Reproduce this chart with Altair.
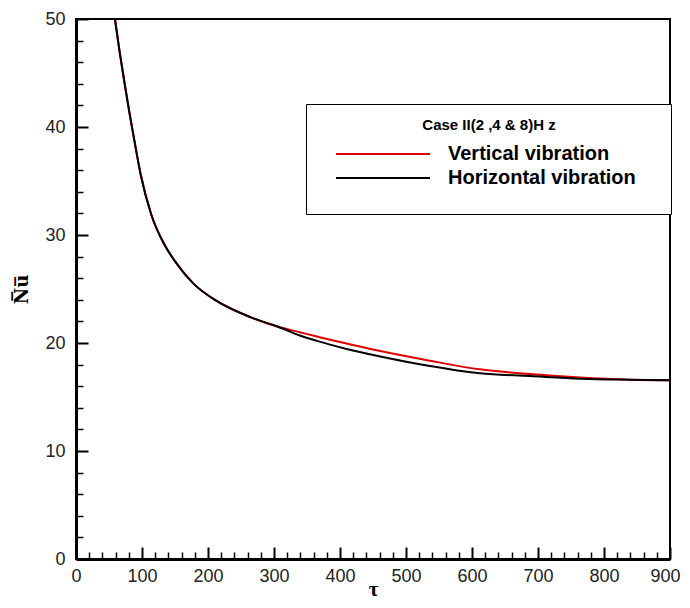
import altair as alt
import pandas as pd

# ---- data ----
tau = [59, 66, 74, 81, 88, 98, 114, 135, 152, 178, 213, 264, 306,
       339, 365, 385, 410, 461, 536, 612, 688, 764, 839, 900]
nu_vertical = [50, 47.0, 43.9, 41.3, 38.9, 35.6, 31.9, 29.0, 27.4, 25.5, 23.9, 22.4, 21.5,
               21.0, 20.6, 20.3, 19.95, 19.25, 18.36, 17.56, 17.13, 16.8, 16.6, 16.55]
nu_horizontal = [50, 47.0, 43.9, 41.3, 38.9, 35.6, 31.9, 29.0, 27.4, 25.5, 23.9, 22.4, 21.5,
                 20.7, 20.2, 19.85, 19.45, 18.75, 17.87, 17.19, 16.94, 16.7, 16.6, 16.55]
series = ["Vertical vibration", "Horizontal vibration"]
colors = ["#dd0000", "#000000"]
legend_title = "Case II(2 ,4 & 8)H z"
x_major = list(range(0, 901, 100))
x_minor = list(range(0, 901, 20))
y_major = list(range(0, 51, 10))
y_minor = list(range(0, 51, 2))

rows = []
for t, v in zip(tau, nu_vertical):
    rows.append({"tau": t, "nu": v, "series": series[0], "order": 0})
for t, h in zip(tau, nu_horizontal):
    rows.append({"tau": t, "nu": h, "series": series[1], "order": 1})
df = pd.DataFrame(rows)

W, H = 594, 540
LABEL_FONT = "Liberation Sans"

xs = alt.Scale(domain=[0, 900], nice=False, zero=False)
ys = alt.Scale(domain=[0, 50], nice=False, zero=False)

last_x = "datum.value === 900"

lines = alt.Chart(df).mark_line(strokeWidth=2, interpolate="monotone").encode(
    x=alt.X("tau:Q", scale=xs,
            axis=alt.Axis(orient="bottom", values=x_major, ticks=False, tickSize=0,
                          labelPadding=8, labelFont=LABEL_FONT, labelFontSize=18,
                          labelColor="#222", labelFlush=False, labelOverlap=False,
                          labelAlign={"condition": {"test": last_x, "value": "right"}, "value": "center"},
                          labelOffset={"condition": {"test": last_x, "value": 10}, "value": 0},
                          domainColor="black", domainWidth=3, grid=False,
                          title="τ", titleFont="Liberation Serif", titleFontSize=21,
                          titleFontWeight="bold", titleColor="black",
                          titleBaseline="alphabetic", titleY=36)),
    y=alt.Y("nu:Q", scale=ys,
            axis=alt.Axis(orient="left", values=y_major, ticks=False, tickSize=0,
                          labelPadding=11, labelFont=LABEL_FONT, labelFontSize=18,
                          labelColor="#222", labelFlush=False, labelOverlap=False,
                          domainColor="black", domainWidth=3, grid=False,
                          title="N\u0305u\u0305", titleFont="DejaVu Serif", titleFontSize=18,
                          titleFontWeight="bold", titleColor="black", titlePadding=13)),
    color=alt.Color("series:N",
                    scale=alt.Scale(domain=series, range=colors),
                    legend=alt.Legend(
                        title=legend_title, orient="none", legendX=230, legendY=85,
                        direction="vertical", padding=26,
                        strokeColor="black", fillColor="white",
                        titleFont=LABEL_FONT, titleFontSize=15,
                        titleFontWeight="bold", titleColor="black",
                        titleAnchor="middle", titleBaseline="alphabetic", titlePadding=-2,
                        symbolType="M-4.7,0H4.7M25.8,0", symbolSize=400, symbolStrokeWidth=2,
                        symbolOffset=40, labelOffset=54, rowPadding=3,
                        labelFont=LABEL_FONT, labelFontSize=20, labelFontWeight="bold",
                        labelColor="black", labelLimit=400)),
    order=alt.Order("order:Q"),
)

ticks = alt.Chart(df).mark_point(opacity=0, size=1).encode(
    x=alt.X("tau:Q", scale=xs,
            axis=alt.Axis(orient="top", offset=-H, values=x_minor, labels=False,
                          domain=False, grid=False, title=None, tickColor="black",
                          tickSize={"condition": {"test": "datum.value % 100 === 0", "value": 12}, "value": 7},
                          tickWidth={"condition": {"test": "datum.value % 100 === 0", "value": 2}, "value": 1.5})),
    y=alt.Y("nu:Q", scale=ys,
            axis=alt.Axis(orient="right", offset=-W, values=y_minor, labels=False,
                          domain=False, grid=False, title=None, tickColor="black",
                          tickSize={"condition": {"test": "datum.value % 10 === 0", "value": 12}, "value": 7},
                          tickWidth={"condition": {"test": "datum.value % 10 === 0", "value": 2}, "value": 1.5})),
)

chart = alt.layer(lines, ticks).resolve_axis(x="independent", y="independent").properties(
    width=W, height=H,
    autosize=alt.AutoSizeParams(type="none"),
    padding={"left": 68, "top": 11, "right": 12, "bottom": 41},
    background="white",
).configure_view(stroke="black", strokeWidth=2)

chart.save("out.html", embed_options={"renderer": "svg", "actions": False})
